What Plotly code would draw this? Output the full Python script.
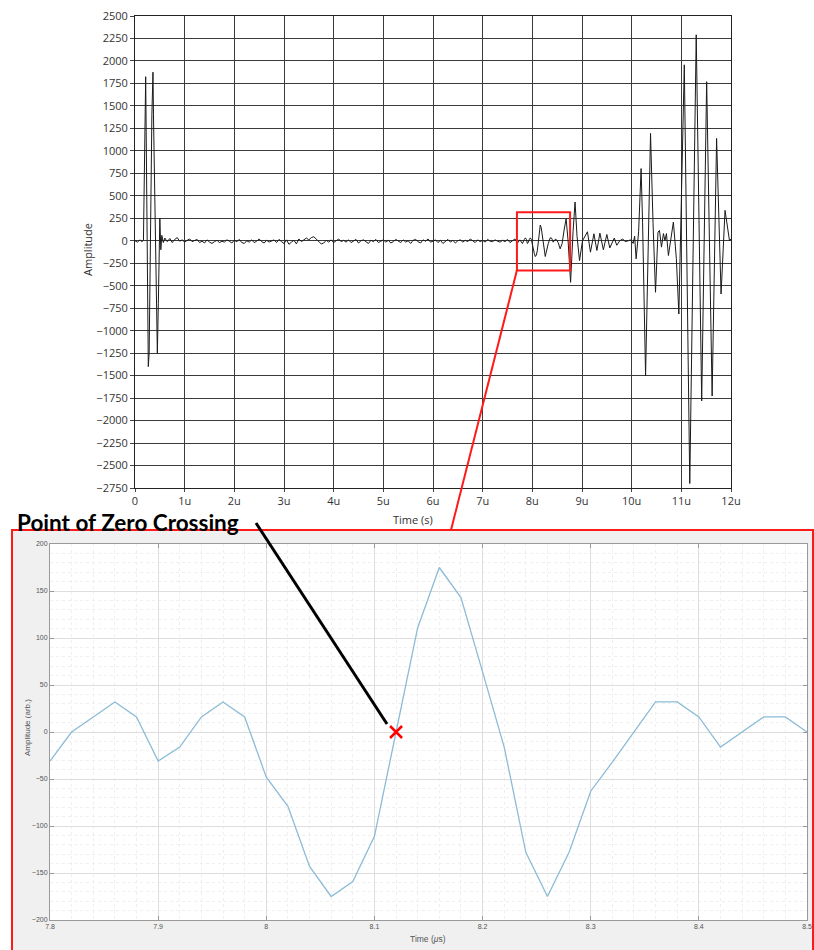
import plotly.graph_objects as go

# ---------------- data ----------------
# top waveform: initial burst (time in microseconds, amplitude)
burst1_t = [0.00, 0.05, 0.10, 0.14, 0.17, 0.19, 0.215, 0.268, 0.285, 0.34, 0.362, 0.372, 0.40, 0.45, 0.47, 0.50, 0.52, 0.54, 0.57]
burst1_v = [0, -15, 10, -10, 5, 1000, 1825, -1400, -1250, 1400, 1875, 1400, 500, -1250, -700, 250, -100, 60, -20]

# low-level noise between bursts, sampled every 0.05 us from 0.60 us
noise_start = 0.60
noise_step = 0.05
noise_v = [
    30, -10, 25, -20, 15, 35, -5, 10, -15, 5, 20, -10,
    0, 15, -20, -5, -25, 10, -15, -30, -10, 5, -20, -5,
    -15, 10, -5, -25, 5, -10, 15, -20, -30, 0, -15, 10,
    -20, -5, 20, -10, -25, 5, -15, -5, 10, -20, 15, -10,
    -30, 10, -40, -15, 5, -35, 20, -10, 15, 30, 10, 35,
    45, 20, -10, -35, -25, 5, -15, 10, -20, 0, 20, -10,
    5, -15, 10, -20, -5, 15, -25, 0, 10, -10, -30, 5,
    -10, 15, -20, -5, 10, -15, 5, -25, -10, 15, -5, -20,
    10, -15, 0, -30, 5, 15, -10, -25, 10, -5, 20, -15,
    -5, 10, -20, 5, -30, -10, 15, -15, 5, -25, 0, 10,
    -15, 5, -10, 20, -5, -20, 10, -10, 5, -15, 15, -5,
    -10, 10, -5, -15, 5, -10, 15, -20, 0, 20, -25, 10,
]

# zoomed segment (also shown in the lower panel), every 0.02 us from 7.80 us
zoom_start = 7.80
zoom_step = 0.02
zoom_v = [
    -31, 0, 16, 32, 16, -31, -16, 16, 32, 16,
    -48, -79, -143, -175, -159, -111, 0, 111, 175, 143,
    64, -16, -128, -175, -128, -63, -32, 0, 32, 32,
    16, -16, 0, 16, 16, 0,
]

# echoes after the zoomed segment
tail_t = [8.52, 8.56, 8.60, 8.64, 8.68, 8.72, 8.77, 8.82, 8.86, 8.90, 8.95, 9.01, 9.11, 9.17, 9.24,
          9.30, 9.36, 9.43, 9.50, 9.56, 9.65, 9.70, 9.76, 9.82, 9.87, 9.93, 9.98,
          10.03, 10.06, 10.09, 10.14, 10.19, 10.22, 10.28, 10.33, 10.38, 10.43, 10.48, 10.53,
          10.56, 10.60, 10.64, 10.67, 10.70, 10.74, 10.80, 10.84, 10.90, 10.95, 11.06, 11.17,
          11.30, 11.41, 11.51, 11.62, 11.71, 11.80, 11.88, 11.97, 12.00]
tail_v = [-20, -90, -30, 120, 245, 0, -462, 100, 431, 50, -220, 0, 100, -127, 78,
          -108, 85, -100, 70, -80, 30, -50, 0, 20, -10, 0, 10,
          -30, 50, -201, 100, 803, 200, -1503, -200, 1194, 200, -573, 96,
          115, -71, 80, 0, 80, -164, 59, 208, -200, -815, 1957, -2700,
          2291, -1782, 1770, -1727, 1138, -592, 338, 0, 20]

top_xtick_vals = [0, 1, 2, 3, 4, 5, 6, 7, 8, 9, 10, 11, 12]
top_xtick_text = ["0", "1u", "2u", "3u", "4u", "5u", "6u", "7u", "8u", "9u", "10u", "11u", "12u"]

zoom_xtick_vals = [7.8, 7.9, 8.0, 8.1, 8.2, 8.3, 8.4, 8.5]
zoom_xtick_text = ["7.8", "7.9", "8", "8.1", "8.2", "8.3", "8.4", "8.5"]

cross_t = [8.12]
cross_v = [0]

# ---------------- assemble ----------------
noise_t = [round(noise_start + i * noise_step, 4) for i in range(len(noise_v))]
zoom_t = [round(zoom_start + i * zoom_step, 4) for i in range(len(zoom_v))]
top_t = burst1_t + noise_t + zoom_t + tail_t
top_v = burst1_v + noise_v + zoom_v + tail_v

W, H = 814, 950
px = lambda x: x / W
py = lambda y: 1 - y / H

fig = go.Figure()
fig.add_trace(go.Scatter(x=top_t, y=top_v, mode="lines", line=dict(color="#1a1a1a", width=1),
                         xaxis="x", yaxis="y", showlegend=False, hoverinfo="skip"))
fig.add_trace(go.Scatter(x=zoom_t, y=zoom_v, mode="lines", line=dict(color="#8dbbd6", width=1.3),
                         xaxis="x2", yaxis="y2", showlegend=False))
fig.add_trace(go.Scatter(x=cross_t, y=cross_v, mode="markers",
                         marker=dict(symbol="x-thin", size=12, color="red", line=dict(color="red", width=2.5)),
                         xaxis="x2", yaxis="y2", showlegend=False))

top_font = dict(family="Open Sans, DejaVu Sans, sans-serif", size=11, color="#333333")
bot_font = dict(family="Liberation Sans, Arial, sans-serif", size=7, color="#555555")

fig.update_layout(
    template="none",
    width=W, height=H,
    margin=dict(l=0, r=0, t=0, b=0, pad=0, autoexpand=False),
    paper_bgcolor="white", plot_bgcolor="white",
    showlegend=False,
    xaxis=dict(domain=[px(135), px(731)], range=[0, 12], anchor="y", automargin=False,
               tickvals=top_xtick_vals, ticktext=top_xtick_text,
               showgrid=True, gridcolor="#3a3a3a", gridwidth=1, zeroline=False,
               showline=True, linecolor="#222222", linewidth=1, mirror=True,
               ticks="outside", ticklen=3, tickcolor="#444444", tickfont=top_font),
    yaxis=dict(domain=[py(488), py(16)], range=[-2750, 2500], anchor="x", automargin=False,
               tick0=0, dtick=250,
               showgrid=True, gridcolor="#3a3a3a", gridwidth=1, zeroline=False,
               showline=True, linecolor="#222222", linewidth=1, mirror=True,
               ticks="outside", ticklen=4, tickcolor="#444444", tickfont=top_font),
    xaxis2=dict(domain=[px(50), px(807)], range=[7.8, 8.5], anchor="y2", automargin=False,
                tickvals=zoom_xtick_vals, ticktext=zoom_xtick_text,
                showgrid=True, gridcolor="#dedede", gridwidth=1, zeroline=False,
                minor=dict(dtick=0.02, tick0=7.8, showgrid=True, gridcolor="#efefef", griddash="dot", ticks=""),
                showline=True, linecolor="#9a9a9a", linewidth=1, mirror="ticks",
                ticks="inside", ticklen=4, tickcolor="#9a9a9a", tickfont=bot_font),
    yaxis2=dict(domain=[py(920), py(544)], range=[-200, 200], anchor="x2", automargin=False,
                tick0=0, dtick=50,
                showgrid=True, gridcolor="#dedede", gridwidth=1, zeroline=False,
                minor=dict(dtick=10, tick0=0, showgrid=True, gridcolor="#efefef", griddash="dot", ticks=""),
                showline=True, linecolor="#9a9a9a", linewidth=1, mirror="ticks",
                ticks="inside", ticklen=4, tickcolor="#9a9a9a", tickfont=bot_font),
)

shapes = [
    # grey figure area of the lower panel with red frame
    dict(type="rect", xref="paper", yref="paper", x0=px(12), x1=px(813), y0=-0.02, y1=py(530),
         fillcolor="#f0f0f0", line=dict(color="#ff1a1a", width=2), layer="below"),
    # white axes area
    dict(type="rect", xref="paper", yref="paper", x0=px(50), x1=px(807), y0=py(920), y1=py(544),
         fillcolor="white", line=dict(width=0), layer="below"),
    # red zoom rectangle on the top chart
    dict(type="rect", xref="x", yref="y", x0=7.69, x1=8.76, y0=-331, y1=316,
         line=dict(color="#ff1a1a", width=2), fillcolor="rgba(0,0,0,0)", layer="above"),
    # red connector
    dict(type="line", xref="paper", yref="paper", x0=px(517), y0=py(270), x1=px(451), y1=py(530),
         line=dict(color="#ff1a1a", width=2), layer="above"),
    # black pointer
    dict(type="line", xref="paper", yref="paper", x0=px(256), y0=py(523), x1=px(387), y1=py(724),
         line=dict(color="black", width=3), layer="above"),
]
fig.update_layout(shapes=shapes)

annotations = [
    dict(text="Time (s)", xref="paper", yref="paper", x=px(413), y=py(519), showarrow=False,
         xanchor="center", yanchor="middle", font=top_font),
    dict(text="Amplitude", xref="paper", yref="paper", x=px(88), y=py(250), showarrow=False,
         xanchor="center", yanchor="middle", textangle=-90, font=top_font),
    dict(text="<b>Point of Zero Crossing</b>", xref="paper", yref="paper", x=px(15), y=py(522),
         showarrow=False, xanchor="left", yanchor="middle",
         font=dict(family="Lato, Open Sans, sans-serif", size=22.5, color="black")),
    dict(text="Amplitude (arb.)", xref="paper", yref="paper", x=px(27), y=py(727), showarrow=False,
         xanchor="center", yanchor="middle", textangle=-90,
         font=dict(family="Liberation Sans, Arial, sans-serif", size=8, color="#555555")),
    dict(text="Time (<i>μ</i>s)", xref="paper", yref="paper", x=px(428), y=py(939), showarrow=False,
         xanchor="center", yanchor="middle",
         font=dict(family="Liberation Sans, Arial, sans-serif", size=8.5, color="#555555")),
]
fig.update_layout(annotations=annotations)

fig.write_html("out.html")
